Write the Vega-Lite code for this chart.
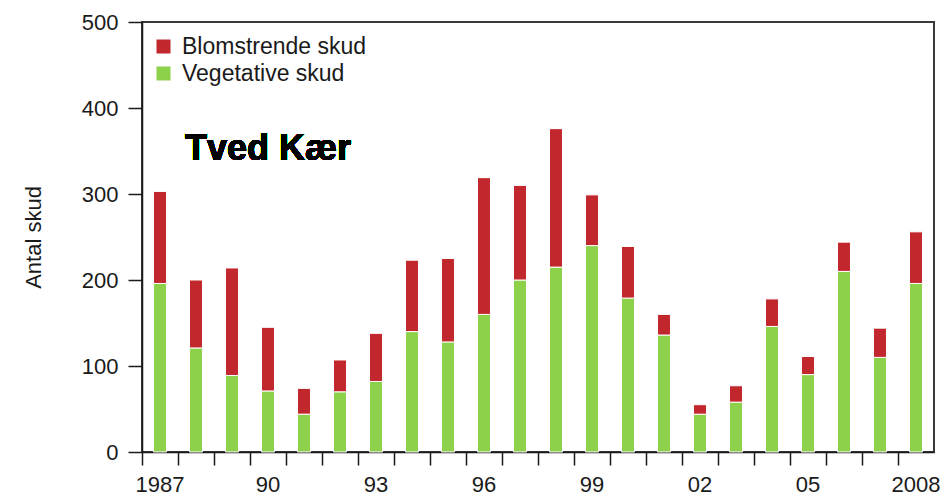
{
  "$schema": "https://vega.github.io/schema/vega-lite/v6.json",
  "width": 792,
  "height": 430,
  "autosize": "none",
  "padding": {"left": 142, "top": 22, "right": 11, "bottom": 49},
  "background": "white",
  "config": {
    "font": "Liberation Sans",
    "view": {"stroke": "#3a3a3a", "strokeWidth": 2},
    "axis": {
      "labelFont": "Liberation Sans",
      "labelFontSize": 22,
      "labelColor": "#1a1a1a",
      "domainColor": "#1a1a1a",
      "domainWidth": 1.5,
      "tickColor": "#1a1a1a",
      "tickWidth": 1.5,
      "grid": false,
      "titleFont": "Liberation Sans",
      "titleFontWeight": "normal",
      "titleColor": "#1a1a1a"
    },
    "legend": {"labelFont": "Liberation Sans", "labelColor": "#1a1a1a"}
  },
  "data": {
    "values": [
      {"year": 1987, "type": "Vegetative skud", "count": 196},
      {"year": 1987, "type": "Blomstrende skud", "count": 107},
      {"year": 1988, "type": "Vegetative skud", "count": 121},
      {"year": 1988, "type": "Blomstrende skud", "count": 79},
      {"year": 1989, "type": "Vegetative skud", "count": 89},
      {"year": 1989, "type": "Blomstrende skud", "count": 125},
      {"year": 1990, "type": "Vegetative skud", "count": 71},
      {"year": 1990, "type": "Blomstrende skud", "count": 74},
      {"year": 1991, "type": "Vegetative skud", "count": 44},
      {"year": 1991, "type": "Blomstrende skud", "count": 30},
      {"year": 1992, "type": "Vegetative skud", "count": 70},
      {"year": 1992, "type": "Blomstrende skud", "count": 37},
      {"year": 1993, "type": "Vegetative skud", "count": 82},
      {"year": 1993, "type": "Blomstrende skud", "count": 56},
      {"year": 1994, "type": "Vegetative skud", "count": 140},
      {"year": 1994, "type": "Blomstrende skud", "count": 83},
      {"year": 1995, "type": "Vegetative skud", "count": 128},
      {"year": 1995, "type": "Blomstrende skud", "count": 97},
      {"year": 1996, "type": "Vegetative skud", "count": 160},
      {"year": 1996, "type": "Blomstrende skud", "count": 159},
      {"year": 1997, "type": "Vegetative skud", "count": 200},
      {"year": 1997, "type": "Blomstrende skud", "count": 110},
      {"year": 1998, "type": "Vegetative skud", "count": 215},
      {"year": 1998, "type": "Blomstrende skud", "count": 161},
      {"year": 1999, "type": "Vegetative skud", "count": 240},
      {"year": 1999, "type": "Blomstrende skud", "count": 59},
      {"year": 2000, "type": "Vegetative skud", "count": 179},
      {"year": 2000, "type": "Blomstrende skud", "count": 60},
      {"year": 2001, "type": "Vegetative skud", "count": 136},
      {"year": 2001, "type": "Blomstrende skud", "count": 24},
      {"year": 2002, "type": "Vegetative skud", "count": 44},
      {"year": 2002, "type": "Blomstrende skud", "count": 11},
      {"year": 2003, "type": "Vegetative skud", "count": 58},
      {"year": 2003, "type": "Blomstrende skud", "count": 19},
      {"year": 2004, "type": "Vegetative skud", "count": 146},
      {"year": 2004, "type": "Blomstrende skud", "count": 32},
      {"year": 2005, "type": "Vegetative skud", "count": 90},
      {"year": 2005, "type": "Blomstrende skud", "count": 21},
      {"year": 2006, "type": "Vegetative skud", "count": 210},
      {"year": 2006, "type": "Blomstrende skud", "count": 34},
      {"year": 2007, "type": "Vegetative skud", "count": 110},
      {"year": 2007, "type": "Blomstrende skud", "count": 34},
      {"year": 2008, "type": "Vegetative skud", "count": 196},
      {"year": 2008, "type": "Blomstrende skud", "count": 60}
    ]
  },
  "layer": [
    {
      "mark": {"type": "bar", "width": {"band": 0.36}, "stroke": "white", "strokeWidth": 1},
      "encoding": {
        "x": {
          "field": "year",
          "type": "ordinal",
          "scale": {"paddingInner": 0, "paddingOuter": 0},
          "axis": {
            "title": null,
            "bandPosition": 0,
            "labelAngle": 0,
            "labelAlign": "center",
            "tickSize": 13,
            "labelPadding": 9,
            "labelOverlap": false,
            "labelExpr": "datum.value == 1987 || datum.value == 2008 ? datum.label : ((datum.value - 1987) % 3 == 0 ? substring(datum.label, 2) : '')"
          }
        },
        "y": {
          "field": "count",
          "type": "quantitative",
          "stack": "zero",
          "scale": {"domain": [0, 500], "nice": false},
          "axis": {
            "title": "Antal skud",
            "titleFontSize": 22,
            "values": [0, 100, 200, 300, 400, 500],
            "tickSize": 14,
            "labelPadding": 10,
            "titlePadding": 36
          }
        },
        "color": {
          "field": "type",
          "type": "nominal",
          "scale": {"domain": ["Blomstrende skud", "Vegetative skud"], "range": ["#c1272d", "#8dd14b"]},
          "legend": {
            "title": null,
            "orient": "none",
            "legendX": 10,
            "legendY": 13,
            "padding": 0,
            "symbolType": "square",
            "symbolSize": 196,
            "symbolStrokeWidth": 0,
            "labelFontSize": 23,
            "labelOffset": 7,
            "labelLimit": 400,
            "rowPadding": 3
          }
        },
        "order": {"field": "type", "sort": "descending"}
      }
    },
    {
      "mark": {"type": "text", "align": "left", "baseline": "alphabetic", "fontSize": 36, "fontWeight": "bold", "dx": -11, "color": "black"},
      "encoding": {
        "x": {"datum": 1988, "type": "ordinal"},
        "y": {"datum": 340, "type": "quantitative"},
        "text": {"value": "Tved Kær"}
      }
    }
  ]
}
